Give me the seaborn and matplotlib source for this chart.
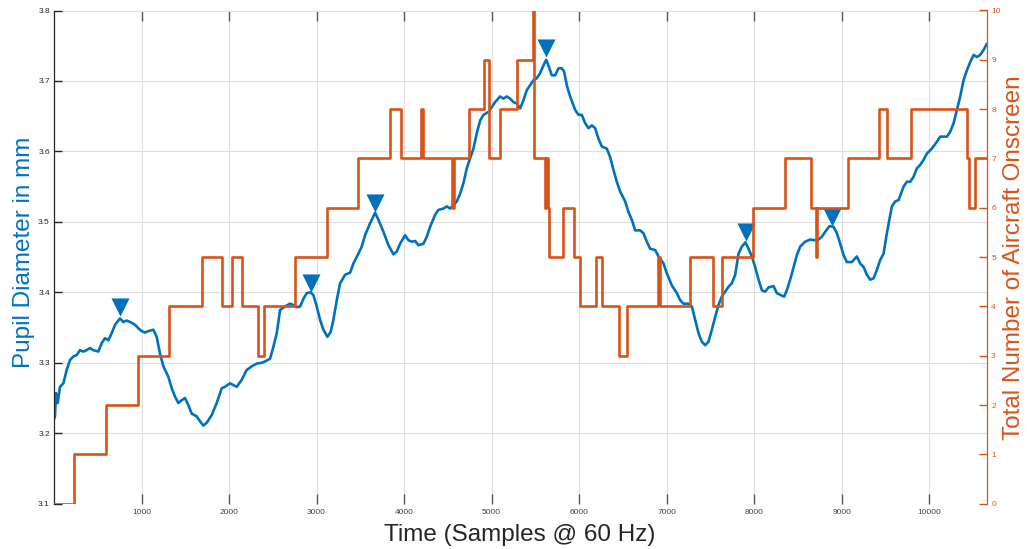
import matplotlib
matplotlib.use('Agg')
import matplotlib.pyplot as plt
import seaborn as sns

# pupil trace (samples, mm)
pupil_t = [0, 11, 23, 42, 69, 107, 145, 183, 221, 259, 297, 335, 373, 411, 449, 507, 545, 583, 621, 659,
           697, 754, 792, 830, 869, 926, 964, 1002, 1040, 1078, 1135, 1173, 1211, 1250, 1307, 1345, 1383,
           1421, 1459, 1497, 1535, 1573, 1630, 1669, 1707, 1745, 1802, 1859, 1916, 1954, 2011, 2088, 2145,
           2202, 2259, 2316, 2373, 2411, 2469, 2507, 2545,
           2583, 2640, 2697, 2735, 2773, 2812, 2850, 2888, 2933, 2964, 3002, 3040, 3078, 3124, 3162, 3192,
           3231, 3269, 3326, 3383, 3421, 3478, 3516, 3554, 3611, 3669, 3707, 3764, 3821, 3878, 3916, 3954,
           4011, 4050, 4088, 4126, 4164, 4221, 4259, 4297, 4354, 4392, 4450, 4488, 4526, 4564, 4602, 4640,
           4678, 4716, 4754, 4792, 4831, 4869, 4907, 4964, 5002, 5040, 5097, 5135, 5173,
           5211, 5249, 5288, 5326, 5364, 5402, 5440, 5478, 5516, 5554, 5592, 5623, 5649, 5688, 5726, 5764,
           5802, 5829, 5859, 5897, 5954, 5992, 6030, 6069, 6107, 6145, 6183, 6221, 6259, 6316, 6354, 6392,
           6430, 6469, 6526, 6564, 6602, 6640, 6697, 6735, 6773, 6811, 6869, 6907, 6964, 7002, 7059, 7116,
           7154, 7192, 7249, 7288, 7326, 7364, 7402, 7440, 7478, 7516, 7554, 7592, 7630, 7669, 7707, 7745,
           7783, 7821, 7859, 7900,
           7935, 7973, 8011, 8050, 8088, 8126, 8164, 8221, 8259, 8305, 8343, 8373, 8411, 8450, 8488, 8526,
           8583, 8640, 8686, 8735, 8773, 8811, 8861, 8907, 8945, 8983, 9021, 9059, 9116, 9173, 9211, 9250,
           9288, 9326, 9364, 9402, 9440, 9478, 9516, 9573, 9611, 9650, 9707, 9745, 9783, 9821, 9859, 9897,
           9935, 9973, 10030, 10088, 10126, 10202, 10240, 10278, 10316, 10354, 10392, 10430, 10469, 10507,
           10545, 10583, 10621, 10659]
pupil_mm = [3.220, 3.224, 3.257, 3.243, 3.266, 3.271, 3.290, 3.304, 3.309, 3.311, 3.318, 3.316, 3.318, 3.321,
            3.318, 3.316, 3.328, 3.335, 3.332, 3.342, 3.354, 3.363, 3.358, 3.360, 3.358, 3.354, 3.349, 3.345,
            3.343, 3.345, 3.347, 3.337, 3.313, 3.295, 3.280, 3.264, 3.252, 3.243, 3.247, 3.250, 3.240, 3.228,
            3.224, 3.217, 3.211, 3.215, 3.226, 3.243, 3.264, 3.266, 3.271, 3.266, 3.276, 3.290, 3.295, 3.299,
            3.300, 3.302, 3.306, 3.323, 3.342,
            3.375, 3.380, 3.384, 3.382, 3.379, 3.380, 3.391, 3.399, 3.400, 3.396, 3.380, 3.361, 3.347, 3.337,
            3.344, 3.361, 3.389, 3.413, 3.425, 3.428, 3.441, 3.455, 3.465, 3.481, 3.498, 3.513, 3.503, 3.486,
            3.467, 3.454, 3.458, 3.469, 3.481, 3.474, 3.472, 3.473, 3.467, 3.469, 3.479, 3.493, 3.510, 3.517,
            3.519, 3.522, 3.519, 3.524, 3.529, 3.540, 3.555, 3.576, 3.590, 3.604, 3.626, 3.644, 3.652, 3.656,
            3.663, 3.670, 3.678, 3.675, 3.678,
            3.675, 3.670, 3.668, 3.661, 3.673, 3.687, 3.694, 3.701, 3.704, 3.711, 3.722, 3.730, 3.722, 3.708,
            3.708, 3.718, 3.718, 3.713, 3.694, 3.678, 3.659, 3.652, 3.652, 3.640, 3.633, 3.637, 3.633, 3.618,
            3.607, 3.604, 3.592, 3.574, 3.557, 3.543, 3.529, 3.514, 3.503, 3.488, 3.488, 3.484, 3.472, 3.462,
            3.460, 3.451, 3.441, 3.427, 3.410, 3.399, 3.389, 3.384, 3.384, 3.380, 3.361, 3.342, 3.330, 3.325,
            3.330, 3.347, 3.365, 3.382, 3.394, 3.401, 3.408, 3.413, 3.425, 3.455, 3.465, 3.471,
            3.462, 3.451, 3.436, 3.418, 3.403, 3.401, 3.407, 3.409, 3.399, 3.396, 3.394, 3.403, 3.418, 3.436,
            3.453, 3.465, 3.472, 3.475, 3.474, 3.475, 3.479, 3.486, 3.494, 3.493, 3.484, 3.469, 3.453, 3.443,
            3.443, 3.451, 3.441, 3.436, 3.425, 3.418, 3.420, 3.432, 3.446, 3.455, 3.484, 3.522, 3.529, 3.531,
            3.550, 3.557, 3.557, 3.564, 3.576, 3.581, 3.588, 3.597, 3.604, 3.614, 3.621, 3.621, 3.628, 3.640,
            3.659, 3.678, 3.701, 3.715, 3.727, 3.737, 3.734, 3.737, 3.744, 3.753]

# detected peaks (marker positions)
peak_t = [754, 2933, 3669, 5623, 7903, 8888]
peak_mm = [3.379, 3.413, 3.527, 3.747, 3.485, 3.507]

# aircraft count, value holds from each time until the next
aircraft_t = [0, 229, 590, 964, 1318, 1688, 1916, 2038, 2145, 2335, 2396, 2754, 3117, 3478, 3840, 3962,
              4198, 4221, 4545, 4565, 4743, 4914, 4968, 5097, 5288, 5470, 5486, 5611, 5625, 5640, 5661,
              5821, 5943, 6011, 6194, 6263, 6457, 6552, 6906, 6926, 7272, 7535, 7634, 7992, 8354, 8648,
              8709, 8720, 9067, 9425, 9517, 9794, 10434, 10457, 10518, 10660]
aircraft_n = [0, 1, 2, 3, 4, 5, 4, 5, 4, 3, 4, 5, 6, 7, 8, 7, 8, 7, 6, 7, 8, 9, 7, 8, 9, 10, 7, 6, 7, 6,
              5, 6, 5, 4, 5, 4, 3, 4, 5, 4, 5, 4, 5, 6, 7, 6, 5, 6, 7, 8, 7, 8, 7, 6, 7, 7]

blue = '#0072BD'
orange = '#D95319'
dark = '#262626'

sns.set_style('white')
plt.rcParams['font.family'] = ['Liberation Sans', 'DejaVu Sans']

fig = plt.figure(figsize=(10.27, 5.49), dpi=100)
ax = fig.add_axes([54 / 1027, 45.2 / 549, 933 / 1027, 493.3 / 549])
ax2 = ax.twinx()

sns.lineplot(x=pupil_t, y=pupil_mm, ax=ax, color=blue, lw=1.9, estimator=None, sort=False)
sns.scatterplot(x=peak_t, y=peak_mm, ax=ax, marker='v', s=170, color=blue, linewidth=0, zorder=5)
sns.lineplot(x=aircraft_t, y=aircraft_n, ax=ax2, color=orange, lw=1.9, estimator=None, sort=False,
             drawstyle='steps-post')

ax.set_xlim(0, 10660)
ax.set_ylim(3.1, 3.8)
ax2.set_ylim(0, 10)
ax.set_xticks(range(1000, 10001, 1000))
ax.set_yticks([3.1, 3.2, 3.3, 3.4, 3.5, 3.6, 3.7, 3.8])
ax2.set_yticks(range(0, 11))

ax.grid(True, color='#dedede', lw=0.8)
ax.set_axisbelow(True)
ax2.grid(False)

ax.tick_params(axis='x', direction='in', length=7, width=1, top=True, bottom=True,
               color='#555555', labelcolor='#444444', labelsize=6, pad=4)
ax.tick_params(axis='y', direction='in', length=6, width=1, left=True, right=False,
               color=dark, labelcolor=dark, labelsize=6, pad=3)
ax2.tick_params(axis='y', direction='in', length=6, width=1, color=orange,
                labelcolor=orange, labelsize=6, pad=3)

for s in ['top', 'bottom', 'right']:
    ax.spines[s].set_visible(False)
ax.spines['left'].set_color(dark)
ax.spines['left'].set_linewidth(0.9)
for s in ['top', 'bottom', 'left']:
    ax2.spines[s].set_visible(False)
ax2.spines['right'].set_color(orange)
ax2.spines['right'].set_linewidth(0.9)

# axis titles placed by hand, like the original layout
fig.text(520 / 1027, 1 - 535 / 549, 'Time (Samples @ 60 Hz)', fontsize=17.5, color=dark,
         ha='center', va='center')
fig.text(24.5 / 1027, 1 - 252 / 549, 'Pupil Diameter in mm', fontsize=17.5, color=blue,
         rotation=90, ha='center', va='center')
fig.text(1013.5 / 1027, 1 - 258 / 549, 'Total Number of Aircraft Onscreen', fontsize=17.5, color=orange,
         rotation=90, ha='center', va='center')

fig.savefig('out.png', dpi=100)
